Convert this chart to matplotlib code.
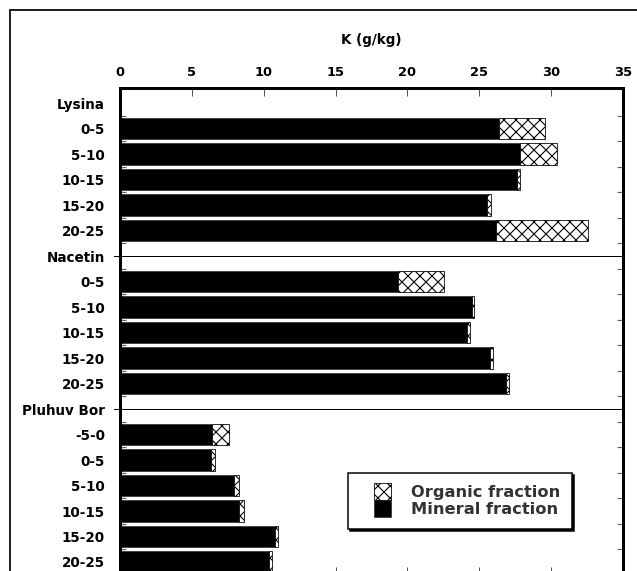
import matplotlib
matplotlib.use("Agg")
import matplotlib.pyplot as plt
import matplotlib.patches as mpatches
import matplotlib.transforms as mtransforms
from matplotlib.legend_handler import HandlerPatch
import numpy as np

# ---------------- data ----------------
groups = ["Lysina", "Nacetin", "Pluhuv Bor"]
lysina_depths = ["0-5", "5-10", "10-15", "15-20", "20-25"]
nacetin_depths = ["0-5", "5-10", "10-15", "15-20", "20-25"]
pluhuv_depths = ["-5-0", "0-5", "5-10", "10-15", "15-20", "20-25"]

lysina_mineral = [26.4, 27.8, 27.65, 25.55, 26.15]
lysina_organic = [3.2, 2.6, 0.2, 0.25, 6.4]
nacetin_mineral = [19.35, 24.5, 24.15, 25.75, 26.85]
nacetin_organic = [3.2, 0.1, 0.2, 0.2, 0.22]
pluhuv_mineral = [6.4, 6.3, 7.95, 8.3, 10.8, 10.35]
pluhuv_organic = [1.15, 0.3, 0.3, 0.3, 0.18, 0.25]

x_ticks = [0, 5, 10, 15, 20, 25, 30, 35]
x_label = "K (g/kg)"
legend_labels = ["Organic fraction", "Mineral fraction"]

# ---------------- build rows ----------------
row_labels, mineral, organic, header_rows = [], [], [], []
for g, deps, mins, orgs in [
    (groups[0], lysina_depths, lysina_mineral, lysina_organic),
    (groups[1], nacetin_depths, nacetin_mineral, nacetin_organic),
    (groups[2], pluhuv_depths, pluhuv_mineral, pluhuv_organic),
]:
    header_rows.append(len(row_labels))
    row_labels.append(g)
    mineral.append(np.nan)
    organic.append(np.nan)
    row_labels.extend(deps)
    mineral.extend(mins)
    organic.extend(orgs)

n = len(row_labels)
ypos = np.arange(n)
mineral = np.array(mineral, dtype=float)
organic = np.array(organic, dtype=float)

# ---------------- figure ----------------
plt.rcParams["font.family"] = ["DejaVu Sans"]
plt.rcParams["hatch.linewidth"] = 1.1
W, H, DPI = 637, 571, 72
fig = plt.figure(figsize=(W / DPI, H / DPI), dpi=DPI)
fig.patch.set_facecolor("white")

# outer frame (extends past right/bottom edge)
frame = mpatches.Rectangle((10 / W, -0.2), 1.5, 1.2 - 9.5 / H, transform=fig.transFigure,
                           fill=False, edgecolor="#222222", linewidth=2)
fig.add_artist(frame)

ax_left, ax_right, ax_top, ax_bottom = 120, 623, 88, 575
ax = fig.add_axes([ax_left / W, (H - ax_bottom) / H, (ax_right - ax_left) / W, (ax_bottom - ax_top) / H])

bar_h = 0.85
bars_min = ax.barh(ypos, mineral, height=bar_h, color="black", edgecolor="#222222", linewidth=0.6,
                   label=legend_labels[1], zorder=2)
bars_org = ax.barh(ypos, organic, left=mineral, height=bar_h, color="white", edgecolor="black",
                   hatch="xx", linewidth=0.8, label=legend_labels[0], zorder=2)

ax.set_xlim(0, 35)
ax.set_ylim(18.51, -0.59)

# separator lines at group headers
trans = mtransforms.blended_transform_factory(ax.transAxes, ax.transData)
for r in header_rows[1:]:
    ax.plot([-0.011, 1], [r, r], transform=trans, color="black", linewidth=1,
            clip_on=False, zorder=3)

# x ticks on top
ax.set_xticks(x_ticks)
ax.set_xticklabels([str(t) for t in x_ticks])
ax.xaxis.set_ticks_position("both")
ax.tick_params(axis="x", which="major", direction="in", length=8, width=1, color="#555555",
               top=True, bottom=True, labeltop=True, labelbottom=False, pad=9,
               labelsize=13)
for lbl in ax.get_xticklabels():
    lbl.set_fontweight("bold")

# y labels
ax.set_yticks(ypos)
ax.set_yticklabels(row_labels)
ax.set_yticks(np.arange(n - 1) + 0.5, minor=True)
ax.tick_params(axis="y", which="major", length=0, pad=15, labelsize=13.5)
ax.tick_params(axis="y", which="minor", direction="in", length=6, width=1.2,
               color="#666666", left=True, right=True)
for lbl in ax.get_yticklabels():
    lbl.set_fontweight("bold")

for s in ax.spines.values():
    s.set_linewidth(3)
    s.set_color("black")

# title
fig.text((ax_left + ax_right) / 2 / W, 1 - 40 / H, x_label, ha="center", va="center",
         fontsize=13.5, fontweight="bold")


# legend with square handles placed on right of handle box, stacked touching
def square_patch(legend, orig_handle, xdescent, ydescent, width, height, fontsize):
    s = 1.06 * fontsize
    y0 = -ydescent + (height - s) / 2.0
    return mpatches.Rectangle((width - s - xdescent, y0), s, s)


h_org = bars_org.patches[1]
h_min = bars_min.patches[1]
leg = fig.legend([h_org, h_min], legend_labels,
                 loc="upper left", bbox_to_anchor=(348 / W, 1 - 473 / H),
                 bbox_transform=fig.transFigure, borderaxespad=0,
                 prop={"weight": "bold", "size": 16.2},
                 frameon=True, fancybox=False, framealpha=1, edgecolor="black",
                 shadow={"color": "black", "alpha": 1},
                 borderpad=0.7, handlelength=1.95, handleheight=1.05,
                 handletextpad=1.25, labelspacing=0.05,
                 handler_map={h_org: HandlerPatch(patch_func=square_patch),
                              h_min: HandlerPatch(patch_func=square_patch)})
leg.get_frame().set_linewidth(1.5)
for t in leg.get_texts():
    t.set_color("#333333")

fig.savefig("out.png", dpi=DPI, facecolor="white")
